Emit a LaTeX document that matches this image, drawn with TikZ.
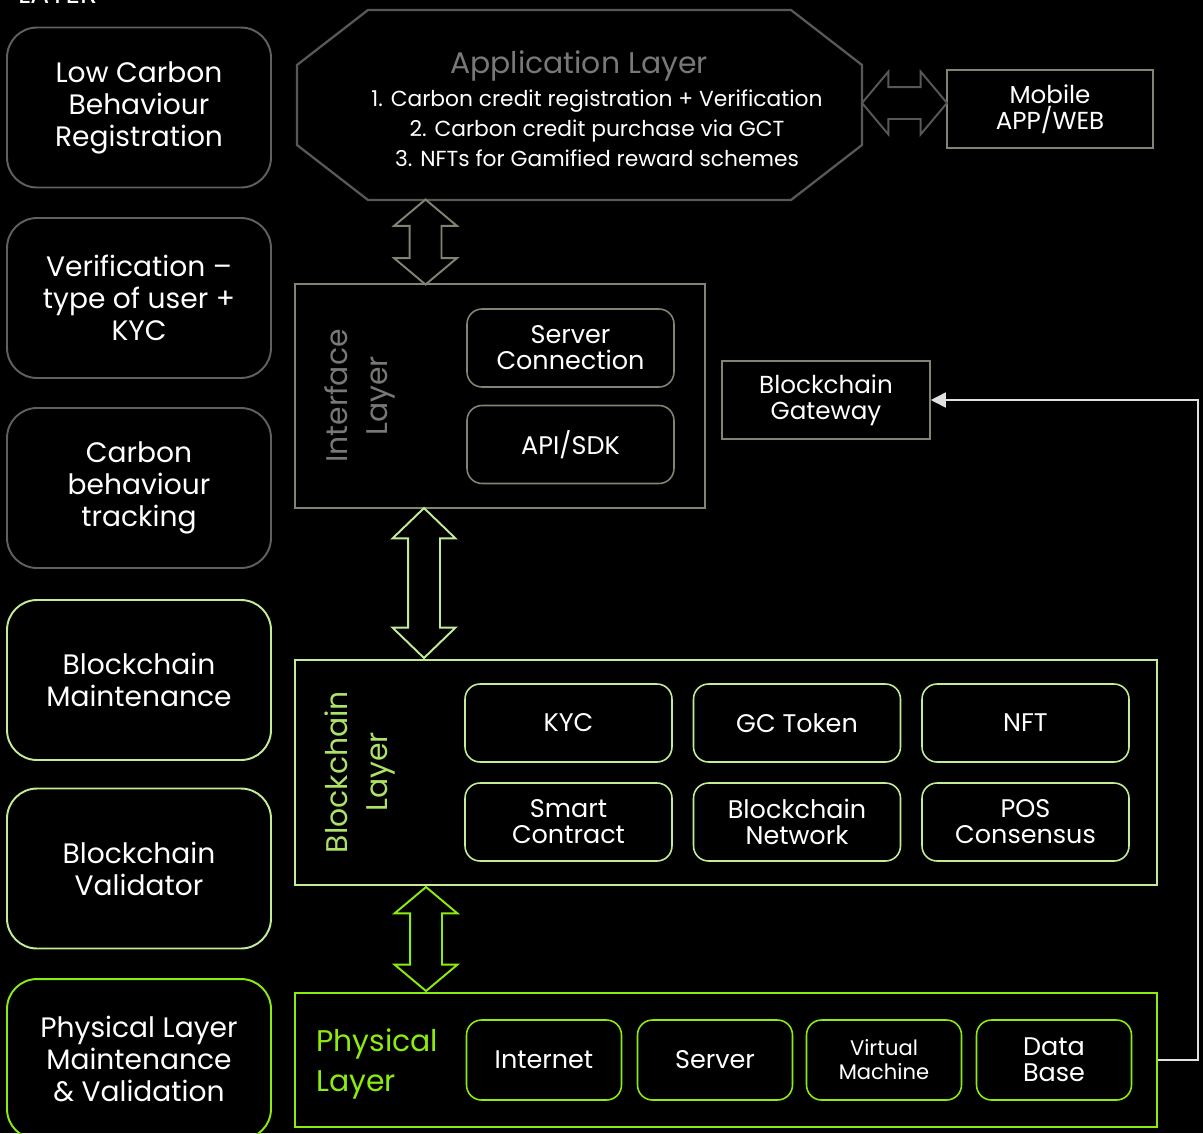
\documentclass[tikz,border=0pt]{standalone}
\usepackage{fontspec}
\setmainfont{Poppins}
\usetikzlibrary{shapes.arrows, arrows.meta}

\definecolor{sidegray}{RGB}{96,96,92}
\definecolor{octgray}{RGB}{88,88,86}
\definecolor{olivegray}{RGB}{128,132,114}
\definecolor{labelgray}{RGB}{120,120,118}
\definecolor{palegreen}{RGB}{194,236,150}
\definecolor{chaingreen}{RGB}{172,226,104}
\definecolor{limegreen}{RGB}{140,236,16}

\tikzstyle{side} = [rectangle, rounded corners=0.6cm, minimum width=5.28cm, minimum height=3.2cm, align=center, line width=1.1pt, text=white, font=\fontsize{16}{18.2}\selectfont]
\tikzstyle{layer} = [rectangle, line width=0.9pt, inner sep=0pt]
\tikzstyle{inbox} = [rectangle, rounded corners=0.3cm, minimum width=4.14cm, minimum height=1.56cm, align=center, line width=0.9pt, text=white, font=\fontsize{14.5}{14.7}\selectfont]
\tikzstyle{physbox} = [inbox, minimum width=3.1cm, minimum height=1.6cm]
\tikzstyle{plainbox} = [rectangle, draw=olivegray, line width=0.9pt, minimum width=4.14cm, minimum height=1.56cm, align=center, text=white, font=\fontsize{14}{14.7}\selectfont]
\tikzstyle{layerlabel} = [rotate=90, align=center, font=\fontsize{17}{22.7}\selectfont]
\tikzstyle{darrow} = [double arrow, draw, line width=1.1pt, inner xsep=0pt, inner ysep=0.3cm, double arrow head extend=0.31cm, double arrow tip angle=100]
\tikzstyle{conn} = [draw=white!88!black, line width=0.9pt, -{Triangle[length=0.3cm,width=0.3cm]}]

\begin{document}
\begin{tikzpicture}[x=0.02cm, y=-0.02cm]
\fill[black] (0,0) rectangle (1203,1133);
\useasboundingbox (0,0) rectangle (1203,1133);

%% NODES
\node[anchor=base west, text=white, font=\fontsize{16}{18}\selectfont] (cut) at (12,3) {LAYER};

\node (reg) [side, draw=sidegray] at (139,107.5) {Low Carbon\\Behaviour\\Registration};
\node (ver) [side, draw=sidegray] at (139,298) {Verification --\\type of user +\\KYC};
\node (track) [side, draw=sidegray] at (139,488) {Carbon\\behaviour\\tracking};
\node (maint) [side, draw=palegreen] at (139,680) {Blockchain\\Maintenance};
\node (valid) [side, draw=palegreen] at (139,868.5) {Blockchain\\Validator};
\node (physm) [side, draw=limegreen] at (139,1059) {Physical Layer\\Maintenance\\\& Validation};

\draw[octgray, line width=1.3pt] (368,10) -- (791,10) -- (862,65) -- (862,145) -- (791,200) -- (368,200) -- (297,145) -- (297,65) -- cycle;
\coordinate (app) at (579.5,105);
\node (apptitle) [text=labelgray, font=\fontsize{17}{20}\selectfont] at (579,66) {Application Layer};
\node (applist) [text=white, align=center, font=\fontsize{12.4}{17}\selectfont] at (597,128) {1. Carbon credit registration + Verification\\2. Carbon credit purchase via GCT\\3. NFTs for Gamified reward schemes};
\node (mobile) [plainbox, minimum width=4.12cm] at (1050,109) {Mobile\\APP/WEB};

\node (iface) [layer, draw=olivegray, minimum width=8.2cm, minimum height=4.48cm] at (500,396) {};
\node (ifacelbl) [layerlabel, text=labelgray] at (360,396) {Interface\\Layer};
\node (srv) [inbox, draw=olivegray] at (570.5,348) {Server\\Connection};
\node (api) [inbox, draw=olivegray] at (570.5,444.5) {API/SDK};
\node (gate) [plainbox, minimum width=4.16cm] at (826,400) {Blockchain\\Gateway};

\node (chain) [layer, draw=palegreen, minimum width=17.24cm, minimum height=4.5cm] at (726,772.5) {};
\node (chainlbl) [layerlabel, text=chaingreen] at (360,772) {Blockchain\\Layer};
\node (kyc) [inbox, draw=palegreen] at (568.5,723) {KYC};
\node (gct) [inbox, draw=palegreen] at (797,723) {GC Token};
\node (nft) [inbox, draw=palegreen] at (1025.5,723) {NFT};
\node (smart) [inbox, draw=palegreen] at (568.5,822) {Smart\\Contract};
\node (net) [inbox, draw=palegreen] at (797,822) {Blockchain\\Network};
\node (pos) [inbox, draw=palegreen] at (1025.5,822) {POS\\Consensus};

\node (phys) [layer, draw=limegreen, minimum width=17.24cm, minimum height=2.68cm] at (726,1060) {};
\node (physlbl) [anchor=west, align=left, text=limegreen, font=\fontsize{17}{22.7}\selectfont] at (310,1064) {Physical\\Layer};
\node (inet) [physbox, draw=limegreen] at (544,1060) {Internet};
\node (server) [physbox, draw=limegreen] at (715,1060) {Server};
\node (vm) [physbox, draw=limegreen, font=\fontsize{12}{13.6}\selectfont] at (884,1060) {Virtual\\Machine};
\node (db) [physbox, draw=limegreen] at (1054,1060) {Data\\Base};

%% ARROWS
\node (a0) [darrow, draw=octgray, minimum height=1.7cm] at (904.5,103) {};
\node (a1) [darrow, draw=olivegray, rotate=90, minimum height=1.7cm] at (425.5,242) {};
\node (a2) [darrow, draw=palegreen, rotate=90, minimum height=3.0cm, double arrow tip angle=92] at (424,583) {};
\node (a3) [darrow, draw=limegreen, rotate=90, minimum height=2.08cm] at (426,939) {};
\draw [conn] (phys.east) -- ++(40,0) |- (gate.east);
\end{tikzpicture}
\end{document}
